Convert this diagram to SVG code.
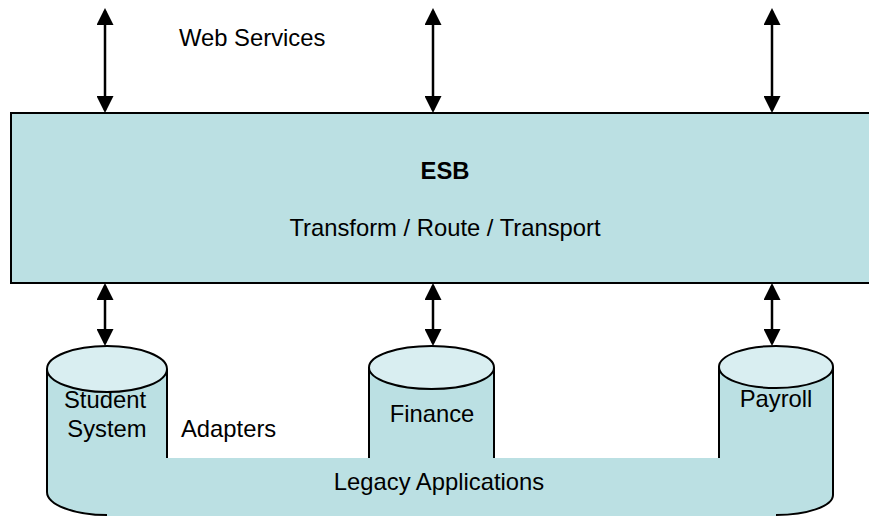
<svg xmlns="http://www.w3.org/2000/svg" width="869" height="516" viewBox="0 0 869 516">
<defs>
<style>
.t{font-family:"Liberation Sans",Arial,sans-serif;font-size:23.8px;fill:#000}
.c{text-anchor:middle}
.b{font-weight:bold}
.fill{fill:#BBE0E3}
.ol{fill:none;stroke:#000;stroke-width:2}
.top{fill:#D9EEF1;stroke:#000;stroke-width:2}
.arr{stroke:#000;stroke-width:2.5;fill:none;marker-start:url(#ah);marker-end:url(#ah)}
</style>
<marker id="ah" viewBox="0 0 17 17" refX="14" refY="8.5" markerWidth="17" markerHeight="17" markerUnits="userSpaceOnUse" orient="auto-start-reverse">
<path d="M0,0 L17,8.5 L0,17 Z" fill="#000"/>
</marker>
</defs>
<rect width="869" height="516" fill="#fff"/>
<g id="legacy">
<path class="fill" d="M47,369 V492 A60,23 0 0 0 107,515 V516 H776 V515 A57,20 0 0 0 833,495 V367 H719 V458 H494 V367.5 H369 V458 H167 V369 Z"/>
<path class="ol" d="M47,369 V492 A60,23 0 0 0 107,515"/>
<path class="ol" d="M833,367 V495 A57,20 0 0 1 776,515"/>
<text class="t c" x="439" y="490">Legacy Applications</text>
</g>
<g id="student">
<path class="ol" d="M167,369 V458"/>
<ellipse class="top" cx="107" cy="369" rx="60" ry="23"/>
<text class="t c" x="105" y="408">Student</text>
<text class="t c" x="107" y="437">System</text>
</g>
<g id="finance">
<path class="ol" d="M369,367.5 V458 M494,367.5 V458"/>
<ellipse class="top" cx="431.5" cy="367.5" rx="62.5" ry="21.5"/>
<text class="t c" x="432" y="422">Finance</text>
</g>
<g id="payroll">
<path class="ol" d="M719,367 V458"/>
<ellipse class="top" cx="776" cy="367" rx="57" ry="21"/>
<text class="t c" x="776" y="407">Payroll</text>
</g>
<g id="esb">
<rect x="11" y="113" width="870" height="170" fill="#BBE0E3" stroke="#000" stroke-width="2"/>
<text class="t c b" x="445" y="179">ESB</text>
<text class="t c" x="445" y="236">Transform / Route / Transport</text>
</g>
<g id="labels">
<text class="t" x="179" y="46">Web Services</text>
<text class="t" x="181" y="437">Adapters</text>
</g>
<g id="connectors">
<line class="arr" x1="105" y1="11" x2="105" y2="110"/>
<line class="arr" x1="433" y1="11" x2="433" y2="110"/>
<line class="arr" x1="772" y1="11" x2="772" y2="110"/>
<line class="arr" x1="105" y1="286" x2="105" y2="343"/>
<line class="arr" x1="433" y1="286" x2="433" y2="343"/>
<line class="arr" x1="772" y1="286" x2="772" y2="343"/>
</g>
</svg>
